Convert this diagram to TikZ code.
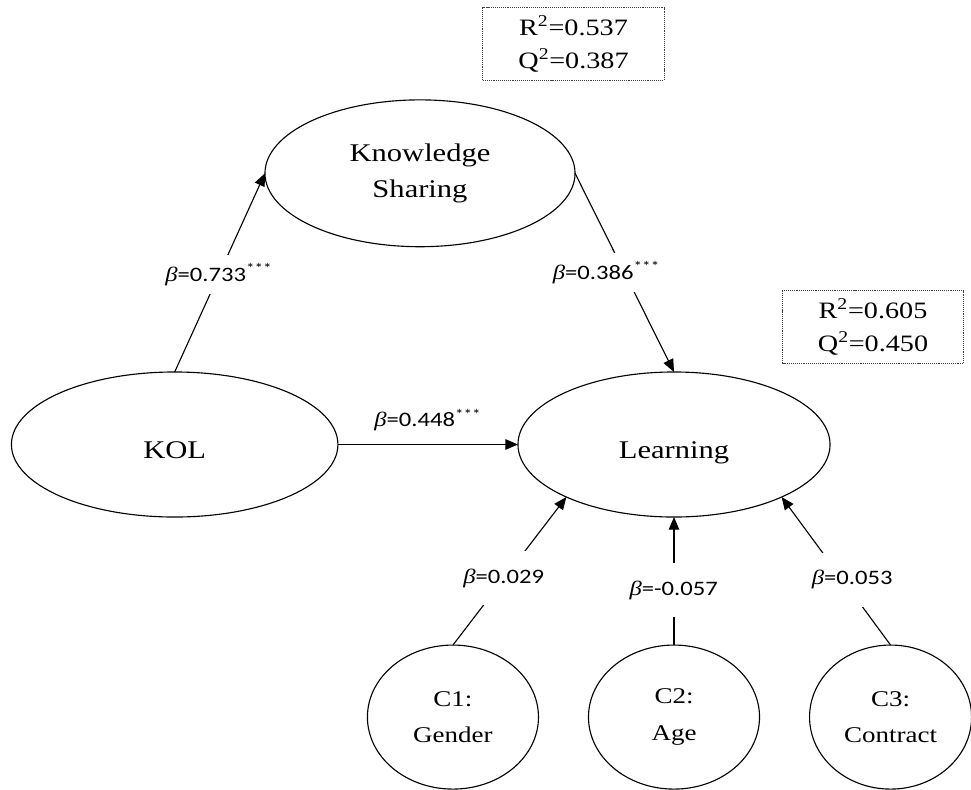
\documentclass[tikz,border=0pt]{standalone}
\usepackage{fontspec}
\setmainfont{Liberation Serif}[FakeStretch=1.2]
\newfontfamily\betafont{Carlito}[FakeStretch=1.2]
\usetikzlibrary{positioning, shapes.geometric, arrows.meta}

\newcommand{\bcoef}[2]{{\textit{β}\betafont=#1\textsuperscript{#2}}}

\tikzset{
	construct/.style={ellipse, draw, inner sep=0pt, outer sep=0pt, minimum height=3.625cm, align=center, font=\fontsize{18.1pt}{25.6pt}\selectfont},
	control/.style={ellipse, draw, inner sep=0pt, outer sep=0pt, minimum width=4.275cm, minimum height=3.6cm, align=center, font=\fontsize{16pt}{26pt}\selectfont},
	fitbox/.style={draw=black!75, line width=0.6pt, dash pattern=on 0.8pt off 0.7pt, minimum width=4.53cm, minimum height=1.81cm, align=center, font=\fontsize{16.7pt}{23.8pt}\selectfont},
	coef/.style={fill=white, inner xsep=2pt, inner ysep=6pt, font=\fontsize{14.6pt}{17pt}\selectfont},
	ctrlcoef/.style={coef, inner ysep=12.5pt}
}

\begin{document}
\begin{tikzpicture}[x=0.025cm, y=-0.025cm, line width=0.8pt, >={Triangle[length=9pt,width=7.5pt]}]
	\useasboundingbox (0,0) rectangle (971,789);
	\node[construct, minimum width=7.8cm, text height=19.2pt, text depth=0pt] (learn) at (674,444.5) {Learning};
	\node[construct, minimum width=8.16cm, text height=19.2pt, text depth=0pt] (kol) [left=4.5cm of learn] {KOL};
	\node[construct, minimum width=7.75cm, minimum height=3.67cm] (ks) at (420,173.3) {Knowledge\\Sharing};
	\node[control] (c2) [below=3.2cm of learn] {C2:\\Age};
	\node[control] (c1) [left=1.25cm of c2] {C1:\\Gender};
	\node[control, minimum width=4.05cm] (c3) [right=1.25cm of c2] {C3:\\Contract};
	\node[fitbox] (fitks) at (573.5,44) {R\textsuperscript{2}=0.537\\Q\textsuperscript{2}=0.387};
	\node[fitbox] (fitlearn) at (873,327) {R\textsuperscript{2}=0.605\\Q\textsuperscript{2}=0.450};
	\draw[->] (kol.north) -- node[coef, pos=0.49] (b1) {\bcoef{0.733}{***}} (ks.west);
	\draw[->] (ks.east) -- node[coef, pos=0.5, xshift=-12.8pt] (b2) {\bcoef{0.386}{***}} (learn.north);
	\draw[->] (kol.east) -- node[above=7pt, inner sep=2pt, font=\fontsize{14.6pt}{17pt}\selectfont] (b3) {\bcoef{0.448}{***}} (learn.west);
	\draw[->] (c1.north) -- node[ctrlcoef, pos=0.45] (b4) {\bcoef{0.029}{}} (learn.206);
	\draw[->] (c2.north) -- node[ctrlcoef, pos=0.43] (b5) {\bcoef{-0.057}{}} (learn.south);
	\draw[->] (c3.north) -- node[ctrlcoef, pos=0.44, xshift=7pt] (b6) {\bcoef{0.053}{}} (learn.334);
\end{tikzpicture}
\end{document}
